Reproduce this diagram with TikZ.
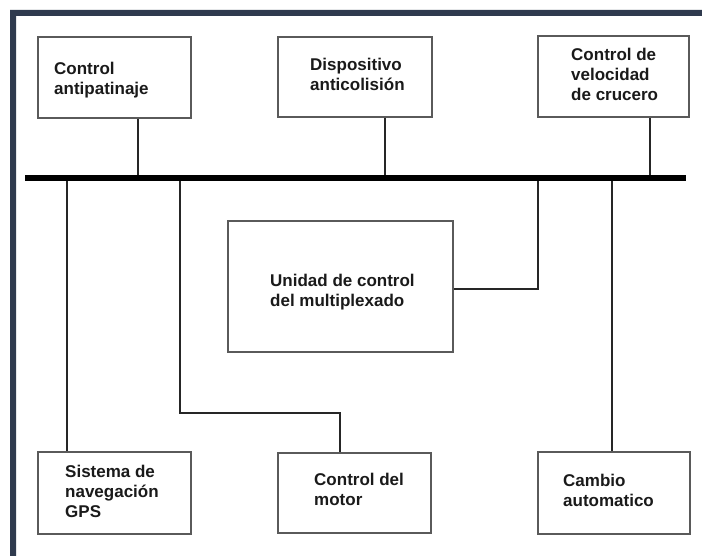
\documentclass[tikz,border=0pt]{standalone}
\usepackage{fontspec}
\setmainfont{Liberation Sans}
\begin{document}
\begin{tikzpicture}[x=1pt,y=-1pt,
  box/.style={draw=boxgray,line width=1.8pt,fill=white,rectangle,inner sep=0pt},
  lbl/.style={anchor=north west,inner sep=0pt,align=left,text=textdark,
    font=\bfseries\fontsize{17}{20}\selectfont},
  wire/.style={draw=wiredark,line width=2.6pt},
  bus/.style={draw=black,line width=6.5pt}]
\definecolor{framecol}{HTML}{2F3A4E}
\definecolor{boxgray}{HTML}{5A5A5A}
\definecolor{wiredark}{HTML}{262626}
\definecolor{textdark}{HTML}{1A1A1A}
\useasboundingbox (0,0) rectangle (702,556);
\fill[white] (0,0) rectangle (702,556);
% frame along the top and left edges
\fill[framecol] (10,10) -- (702,10) -- (702,16) -- (16,16) -- (16,556) -- (10,556) -- cycle;

% modules
\node[box,minimum width=153pt,minimum height=81pt] (anti) at (114.5,77.5) {};
\node[box,minimum width=154pt,minimum height=80pt] (coli) at (355,77) {};
\node[box,minimum width=151pt,minimum height=81pt] (vel)  at (613.5,76.5) {};
\node[box,minimum width=225pt,minimum height=131pt] (uni) at (340.5,286.5) {};
\node[box,minimum width=153pt,minimum height=82pt] (gps)  at (114.5,493) {};
\node[box,minimum width=153pt,minimum height=80pt] (mot)  at (354.5,493) {};
\node[box,minimum width=152pt,minimum height=82pt] (cam)  at (614,493) {};

\node[lbl] (antiT) at (54,62)  {Control\\antipatinaje};
\node[lbl] (coliT) at (310,58) {Dispositivo\\anticolisión};
\node[lbl] (velT)  at (571,48) {Control de\\velocidad\\de crucero};
\node[lbl] (uniT)  at (270,274) {Unidad de control\\del multiplexado};
\node[lbl] (gpsT)  at (65,465) {Sistema de\\navegación\\GPS};
\node[lbl] (motT)  at (314,473) {Control del\\motor};
\node[lbl] (camT)  at (563,474) {Cambio\\automatico};

% bus and its taps
\coordinate (busL) at (25,178);
\coordinate (busR) at (686,178);
\coordinate (tGps)  at (67,178);
\coordinate (tAnti) at (138,178);
\coordinate (tMot)  at (180,178);
\coordinate (tColi) at (385,178);
\coordinate (tUni)  at (538,178);
\coordinate (tCam)  at (612,178);
\coordinate (tVel)  at (650,178);
\coordinate (motBend) at (340,413);
\coordinate (uniBend) at (538,289);

\draw[wire] (anti.south -| tAnti) -- (tAnti);
\draw[wire] (coli.south -| tColi) -- (tColi);
\draw[wire] (vel.south -| tVel) -- (tVel);
\draw[wire] (tGps) -- (gps.north -| tGps);
\draw[wire] (tMot) |- (motBend) -- (mot.north -| motBend);
\draw[wire] (tUni) -- (uniBend) -- (uni.east |- uniBend);
\draw[wire] (tCam) -- (cam.north -| tCam);
\draw[bus] (busL) -- (busR);
\end{tikzpicture}
\end{document}
